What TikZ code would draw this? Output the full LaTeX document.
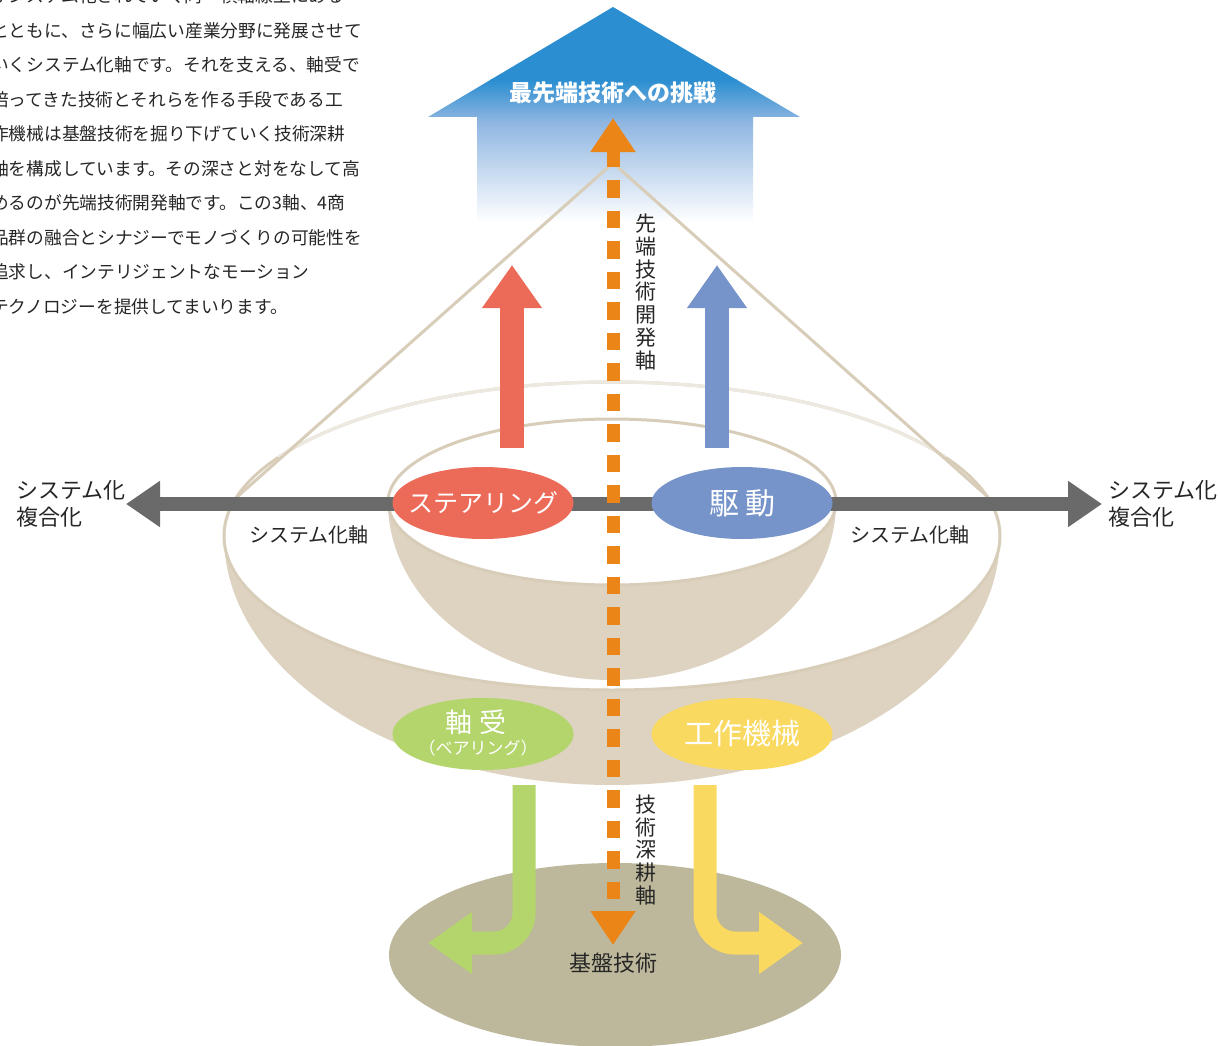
\documentclass[tikz,border=0pt]{standalone}
\usepackage{fontspec}
\setmainfont{Noto Sans CJK JP}
\usetikzlibrary{arrows.meta,shapes.geometric}

\definecolor{skyblue}{HTML}{2B8ED0}
\definecolor{skymid}{HTML}{8FB6E1}
\definecolor{techorange}{HTML}{EB8517}
\definecolor{axisgray}{HTML}{6A6A6A}
\definecolor{steerred}{HTML}{EC6A58}
\definecolor{driveblue}{HTML}{7694C9}
\definecolor{bearinggreen}{HTML}{B3D56C}
\definecolor{machineyellow}{HTML}{F9D95F}
\definecolor{bowlbeige}{HTML}{DDD3C0}
\definecolor{rimbeige}{HTML}{D8CDB8}
\definecolor{rimlight}{HTML}{EEE9E0}
\definecolor{baseolive}{HTML}{BDB89B}
\definecolor{txtgray}{HTML}{262626}

\begin{document}
\begin{tikzpicture}[x=1pt,y=-1pt,
    bubble/.style={ellipse, minimum width=181pt, minimum height=72pt, inner sep=0pt},
    bubbletext/.style={inner sep=0pt, text=white},
    lbl/.style={inner sep=0pt, text=txtgray},
    para/.style={inner sep=0pt, anchor=west, text=txtgray, font=\fontsize{17.7}{17.7}\selectfont},
    rimline/.style={draw=rimbeige, line width=3pt},
    upshaft/.style={line width=24pt, -{Triangle[width=57pt,length=43pt]}},
    bentshaft/.style={line width=23pt, rounded corners=30pt, -{Triangle[width=59pt,length=44pt]}}]
  \useasboundingbox (0,0) rectangle (1220,1046);

  % text block (cut off at the left and top)
  \foreach \txt [count=\i from 0] in {がシステム化されていく同一横軸線上にある,
      とともに、さらに幅広い産業分野に発展させて,
      いくシステム化軸です。それを支える、軸受で,
      培ってきた技術とそれらを作る手段である工,
      作機械は基盤技術を掘り下げていく技術深耕,
      軸を構成しています。その深さと対をなして高,
      めるのが先端技術開発軸です。この3軸、4商,
      品群の融合とシナジーでモノづくりの可能性を,
      追求し、インテリジェントなモーション,
      テクノロジーを提供してまいります。}
    \node[para] (para\i) at (-9,{-4+34.5*\i}) {\txt};

  % big arrow on top
  \begin{scope}
    \clip (613,7) -- (800,117) -- (753,117) -- (753,222) -- (477,222)
      -- (477,117) -- (428,117) -- cycle;
    \fill[skyblue] (420,0) rectangle (810,80);
    \shade[top color=skyblue, bottom color=skymid] (420,80) rectangle (810,122);
    \shade[top color=skymid, bottom color=white] (420,122) rectangle (810,222);
  \end{scope}
  \node[inner sep=0pt, text=white, font=\fontsize{23}{23}\selectfont\bfseries]
    (goal) at (613,93) {最先端技術への挑戦};

  % base
  \node[ellipse, fill=baseolive, minimum width=452pt, minimum height=184pt] (base) at (615,955) {};

  % outer bowl
  \begin{scope}
    \clip (0,536) rectangle (1220,1046);
    \fill[bowlbeige] (612,536) ellipse [x radius=388pt, y radius=249pt];
  \end{scope}
  \fill[white] (612,536) ellipse [x radius=388pt, y radius=154pt];
  \draw[rimline] (612,536) ellipse [x radius=388pt, y radius=154pt];
  \begin{scope}
    \clip (0,0) rectangle (1220,456);
    \draw[draw=rimlight, line width=3.2pt] (612,536) ellipse [x radius=388pt, y radius=154pt];
  \end{scope}

  % cone
  \coordinate (apex) at (613,163);
  \coordinate (coneL) at (237,497);
  \coordinate (coneR) at (988,497);
  \draw[rimbeige, line width=3pt] (coneL) -- (apex) -- (coneR);

  % inner bowl
  \begin{scope}
    \clip (0,502) rectangle (1220,1046);
    \fill[bowlbeige] (612,502) ellipse [x radius=224pt, y radius=178pt];
  \end{scope}
  \fill[white] (612,502) ellipse [x radius=224pt, y radius=83pt];
  \draw[rimline] (612,502) ellipse [x radius=224pt, y radius=83pt];

  % system axis
  \coordinate (sysL) at (126,504);
  \coordinate (sysR) at (1102,504);
  \draw[axisgray, line width=14pt, {Triangle[width=44pt,length=34pt]}-{Triangle[width=44pt,length=34pt]}]
    (sysL) -- (sysR);

  % up arrows
  \coordinate (steerUp) at (512,448);
  \coordinate (driveUp) at (717,448);
  \draw[upshaft, steerred] (steerUp) -- (512,265);
  \draw[upshaft, driveblue] (driveUp) -- (717,265);

  % product bubbles
  \node[bubble, fill=steerred] (steer) at (483,503) {};
  \node[bubble, fill=driveblue] (drive) at (742,503) {};
  \node[bubble, fill=bearinggreen] (bearing) at (483,734) {};
  \node[bubble, fill=machineyellow] (machine) at (742,734) {};
  \node[bubbletext, font=\fontsize{25}{25}\selectfont] (steerTxt) at (steer) {ステアリング};
  \node[bubbletext, font=\fontsize{30}{30}\selectfont] (driveTxt) at (drive) {駆\hspace{6pt}動};
  \node[bubbletext, font=\fontsize{27}{27}\selectfont] (bearingTxt) at (476,722) {軸\hspace{8pt}受};
  \node[bubbletext, font=\fontsize{17}{17}\selectfont] (bearingSub) at (478,748) {（ベアリング）};
  \node[bubbletext, font=\fontsize{29}{29}\selectfont] (machineTxt) at (machine) {工作機械};

  % bent arrows into the base
  \coordinate (bearingDown) at (524,785);
  \coordinate (machineDown) at (705,785);
  \draw[bentshaft, bearinggreen] (bearingDown) -- (524,943) -- (428,943);
  \draw[bentshaft, machineyellow] (machineDown) -- (705,943) -- (803,943);

  % technology axis
  \coordinate (techTop) at (613,118);
  \coordinate (techBot) at (613,945);
  \draw[techorange, line width=13pt, dash pattern=on 17.5pt off 13pt,
    {Triangle[width=43pt,length=34pt]}-{Triangle[width=43pt,length=34pt]}] (techTop) -- (techBot);

  % labels
  \node[lbl, font=\fontsize{21}{22.7}\selectfont, align=center] (advLbl) at (646,292)
    {先\\端\\技\\術\\開\\発\\軸};
  \node[lbl, font=\fontsize{21}{22.8}\selectfont, align=center] (deepLbl) at (646,850)
    {技\\術\\深\\耕\\軸};
  \node[lbl, anchor=west, align=left, font=\fontsize{22}{27}\selectfont] (outL) at (16,504)
    {システム化\\複合化};
  \node[lbl, anchor=west, align=left, font=\fontsize{22}{27}\selectfont] (outR) at (1108,504)
    {システム化\\複合化};
  \node[lbl, font=\fontsize{20}{20}\selectfont] (sysLblL) at (309,535) {システム化軸};
  \node[lbl, font=\fontsize{20}{20}\selectfont] (sysLblR) at (910,535) {システム化軸};
  \node[lbl, font=\fontsize{22}{22}\selectfont] (baseLbl) at (613,963) {基盤技術};
\end{tikzpicture}
\end{document}
